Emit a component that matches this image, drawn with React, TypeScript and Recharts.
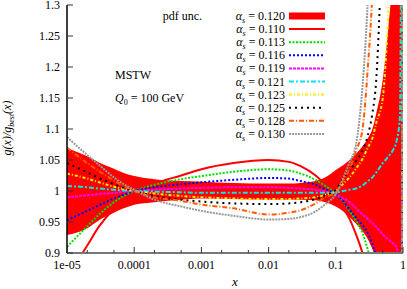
import React from 'react';
import { ComposedChart, Line, Area, XAxis, YAxis, Customized } from 'recharts';

// ---------- data ----------
const xs = [1e-5, 2e-5, 3e-5, 5e-5, 7e-5, 1e-4, 2e-4, 5e-4, 1e-3, 3e-3, 1e-2, 2e-2, 3e-2, 5e-2, 7e-2, 0.1, 0.13, 0.16, 0.2, 0.25, 0.3, 0.35, 0.4, 0.5, 0.6, 0.7, 0.8, 0.9, 0.95, 0.99];

const bandLow = [0.929, 0.94, 0.953, 0.965, 0.972, 0.978, 0.982, 0.986, 0.988, 0.987, 0.986, 0.986, 0.986, 0.985, 0.982, 0.975, 0.967, 0.958, 0.947, 0.935, 0.922, 0.906, 0.89, 0.86, 0.82, 0.77, 0.7, 0.55, 0.4, 0.2];
const bandHigh = [1.069, 1.056, 1.046, 1.036, 1.029, 1.024, 1.019, 1.016, 1.015, 1.013, 1.012, 1.012, 1.013, 1.016, 1.022, 1.034, 1.042, 1.05, 1.06, 1.072, 1.085, 1.1, 1.125, 1.18, 1.26, 1.35, 1.5, 1.8, 2.2, 3.0];

const a110 = [0.86, 0.912, 0.943, 0.971, 0.985, 0.998, 1.012, 1.025, 1.035, 1.045, 1.05, 1.047, 1.04, 1.025, 1.01, 0.992, 0.972, 0.955, 0.93, 0.9, 0.87, 0.84, 0.8, 0.7, 0.6, 0.5, 0.4, 0.3, 0.5, 2.0];
const a113 = [0.91, 0.943, 0.962, 0.982, 0.992, 1.0, 1.01, 1.019, 1.024, 1.031, 1.035, 1.033, 1.028, 1.018, 1.008, 0.996, 0.982, 0.968, 0.952, 0.932, 0.905, 0.875, 0.84, 0.76, 0.68, 0.6, 0.5, 0.4, 0.6, 2.0];
const a116 = [0.953, 0.968, 0.977, 0.988, 0.994, 1.0, 1.006, 1.011, 1.014, 1.018, 1.021, 1.02, 1.016, 1.01, 1.003, 0.995, 0.983, 0.97, 0.957, 0.945, 0.932, 0.915, 0.895, 0.84, 0.76, 0.67, 0.57, 0.47, 0.7, 2.0];
const a119 = [0.99, 0.993, 0.995, 0.997, 0.999, 1.0, 1.002, 1.004, 1.005, 1.006, 1.006, 1.005, 1.004, 1.002, 0.999, 0.994, 0.988, 0.982, 0.972, 0.962, 0.955, 0.948, 0.942, 0.93, 0.922, 0.916, 0.91, 0.85, 0.8, 2.0];
const a121 = [1.008, 1.006, 1.004, 1.002, 1.001, 1.0, 0.999, 0.998, 0.997, 0.997, 0.997, 0.997, 0.997, 0.997, 0.997, 0.998, 1.0, 1.002, 1.004, 1.009, 1.016, 1.022, 1.03, 1.045, 1.055, 1.065, 1.08, 1.12, 1.4, 0.6];
const a123 = [1.028, 1.02, 1.014, 1.007, 1.003, 1.0, 0.996, 0.992, 0.99, 0.988, 0.987, 0.987, 0.988, 0.99, 0.994, 1.0, 1.012, 1.022, 1.036, 1.052, 1.07, 1.085, 1.11, 1.15, 1.28, 1.45, 1.7, 2.0, 2.5, 0.5];
const a125 = [1.045, 1.03, 1.021, 1.011, 1.005, 1.0, 0.992, 0.986, 0.983, 0.98, 0.979, 0.98, 0.982, 0.987, 0.993, 1.002, 1.02, 1.032, 1.048, 1.065, 1.09, 1.125, 1.18, 1.45, 1.8, 2.2, 2.6, 3.0, 3.2, 0.5];
const a128 = [1.07, 1.045, 1.032, 1.017, 1.008, 1.0, 0.99, 0.984, 0.978, 0.972, 0.962, 0.965, 0.969, 0.98, 0.99, 0.998, 1.018, 1.035, 1.065, 1.1, 1.2, 1.32, 1.5, 1.9, 2.3, 2.7, 3.0, 3.3, 3.5, 0.5];
const a130 = [1.087, 1.058, 1.042, 1.022, 1.011, 1.002, 0.986, 0.975, 0.968, 0.96, 0.954, 0.955, 0.958, 0.967, 0.979, 0.995, 1.022, 1.046, 1.075, 1.17, 1.31, 1.5, 1.7, 2.1, 2.5, 2.9, 3.2, 3.5, 3.7, 0.5];

const bandLabel = '0.120';
const alphaLabels = ['0.110', '0.113', '0.116', '0.119', '0.121', '0.123', '0.125', '0.128', '0.130'];

const xMajorTicks = [1e-5, 1e-4, 1e-3, 1e-2, 1e-1, 1];
const xMajorLabels = ['1e-05', '0.0001', '0.001', '0.01', '0.1', '1'];
const xMinorTicks = [2e-5, 5e-5, 2e-4, 5e-4, 2e-3, 5e-3, 2e-2, 5e-2, 0.2, 0.5];
const yTicks = [0.9, 0.95, 1.0, 1.05, 1.1, 1.15, 1.2, 1.25, 1.3];
const yTickLabels = ['0.9', '0.95', '1', '1.05', '1.1', '1.15', '1.2', '1.25', '1.3'];

const seriesValues = [a110, a113, a116, a119, a121, a123, a125, a128, a130];
const seriesKeys = ['a110', 'a113', 'a116', 'a119', 'a121', 'a123', 'a125', 'a128', 'a130'];

const data = xs.map((x, i) => {
  const row: any = { x, band: [bandLow[i], bandHigh[i]] };
  seriesKeys.forEach((k, j) => { row[k] = seriesValues[j][i]; });
  return row;
});

// ---------- styles ----------
const FONT = 'Liberation Serif, DejaVu Serif, serif';
const styles = [
  { color: '#ff0000', dash: undefined as string | undefined, width: 2 },
  { color: '#00e000', dash: '2 1.5', width: 2 },
  { color: '#0000ff', dash: '2 2', width: 2 },
  { color: '#ff00ff', dash: '3 1', width: 2 },
  { color: '#00e8e8', dash: '5 2 2 2', width: 2 },
  { color: '#f4f000', dash: '3 2 1 2', width: 2 },
  { color: '#000000', dash: '2 4', width: 2 },
  { color: '#ff5a00', dash: '5 2 1 2', width: 2 },
  { color: '#9a9a9a', dash: '2 1', width: 2 },
];
const BAND_COLOR = '#ff0000';
const FRAME = '#777777';
const textStyle = { fontFamily: FONT };

const allXTicks = [...xMajorTicks, ...xMinorTicks].sort((a, b) => a - b);

function BottomTick(props: any) {
  const { x, y, payload } = props;
  const idx = xMajorTicks.indexOf(payload.value);
  const major = idx >= 0;
  return (
    <g>
      <line x1={x} x2={x} y1={y} y2={y - (major ? 6 : 3)} stroke="#333" strokeWidth={1} />
      {major && (
        <text x={x} y={y + 16} textAnchor="middle" style={textStyle} fontSize={12} fill="#000">
          {xMajorLabels[idx]}
        </text>
      )}
    </g>
  );
}
function TopTick(props: any) {
  const { x, y, payload } = props;
  const major = xMajorTicks.indexOf(payload.value) >= 0;
  return <line x1={x} x2={x} y1={y} y2={y + (major ? 6 : 3)} stroke="#333" strokeWidth={1} />;
}
function LeftTick(props: any) {
  const { x, y, payload } = props;
  const idx = yTicks.indexOf(payload.value);
  return (
    <g>
      <line x1={x} x2={x + 6} y1={y} y2={y} stroke="#333" strokeWidth={1} />
      <text x={x - 7} y={y + 4} textAnchor="end" style={textStyle} fontSize={12} fill="#000">
        {yTickLabels[idx]}
      </text>
    </g>
  );
}
function RightTick(props: any) {
  const { x, y } = props;
  return <line x1={x} x2={x - 6} y1={y} y2={y} stroke="#333" strokeWidth={1} />;
}

function AlphaText({ x, y, value }: { x: number; y: number; value: string }) {
  return (
    <text x={x} y={y} textAnchor="end" style={textStyle} fontSize={12} fill="#000">
      <tspan fontStyle="italic">α</tspan>
      <tspan dy={3} fontSize={8} fontStyle="italic">s</tspan>
      <tspan dy={-3}> = {value}</tspan>
    </text>
  );
}

function Overlay() {
  const rowY = (i: number) => 16 + i * 13.1;
  return (
    <g>
      {/* legend */}
      <text x={202} y={rowY(0) + 4} textAnchor="end" style={textStyle} fontSize={12} fill="#000">pdf unc.</text>
      <AlphaText x={285} y={rowY(0) + 4} value={bandLabel} />
      <rect x={289} y={rowY(0) - 3.5} width={36} height={7} fill={BAND_COLOR} />
      {alphaLabels.map((lab, i) => (
        <g key={lab}>
          <AlphaText x={285} y={rowY(i + 1) + 4} value={lab} />
          <line x1={289} x2={325} y1={rowY(i + 1)} y2={rowY(i + 1)} stroke={styles[i].color}
            strokeWidth={styles[i].width} strokeDasharray={styles[i].dash} />
        </g>
      ))}
      {/* annotations */}
      <text x={115} y={79} style={textStyle} fontSize={12} fill="#000">MSTW</text>
      <text x={115} y={102} style={textStyle} fontSize={12} fill="#000">
        <tspan fontStyle="italic">Q</tspan>
        <tspan dy={3} fontSize={8}>0</tspan>
        <tspan dy={-3}> = 100 GeV</tspan>
      </text>
      {/* axis titles */}
      <text x={235} y={286} textAnchor="middle" style={textStyle} fontSize={13} fontStyle="italic" fill="#000">x</text>
      <text x={11} y={128} transform="rotate(-90 11 128)" textAnchor="middle" style={textStyle} fontSize={12} fontStyle="italic" fill="#000">
        g(x)/g<tspan dy={3} fontSize={8}>best</tspan><tspan dy={-3}>(x)</tspan>
      </text>
    </g>
  );
}

export default function App() {
  return (
    <div style={{ position: 'absolute', left: 0, top: 0, background: '#fff' }}>
      <ComposedChart width={407} height={289} data={data} margin={{ top: 5, right: 4, left: 0, bottom: 0 }}>
        <XAxis dataKey="x" type="number" scale="log" domain={[1e-5, 1]} allowDataOverflow
          ticks={allXTicks} interval={0} height={36} tickSize={0} tickMargin={0}
          tick={<BottomTick />} tickLine={false} axisLine={{ stroke: FRAME, strokeWidth: 2 }} />
        <XAxis xAxisId="top" orientation="top" dataKey="x" type="number" scale="log" domain={[1e-5, 1]} allowDataOverflow
          ticks={allXTicks} interval={0} height={0} tickSize={0} tickMargin={0}
          tick={<TopTick />} tickLine={false} axisLine={{ stroke: FRAME, strokeWidth: 2 }} />
        <YAxis type="number" domain={[0.9, 1.3]} allowDataOverflow ticks={yTicks} interval={0}
          width={67} tickSize={0} tickMargin={0} tick={<LeftTick />} tickLine={false}
          axisLine={{ stroke: '#000', strokeWidth: 1.5 }} />
        <YAxis yAxisId="right" orientation="right" type="number" domain={[0.9, 1.3]} allowDataOverflow ticks={yTicks} interval={0}
          width={0} tickSize={0} tickMargin={0} tick={<RightTick />} tickLine={false}
          axisLine={{ stroke: FRAME, strokeWidth: 2 }} />
        <Area dataKey="band" type="monotone" fill={BAND_COLOR} fillOpacity={1} stroke="none" isAnimationActive={false} />
        {seriesKeys.map((k, i) => (
          <Line key={k} dataKey={k} type="monotone" stroke={styles[i].color} strokeWidth={styles[i].width}
            strokeDasharray={styles[i].dash} dot={false} activeDot={false} isAnimationActive={false} />
        ))}
        <Customized component={Overlay} />
      </ComposedChart>
    </div>
  );
}
